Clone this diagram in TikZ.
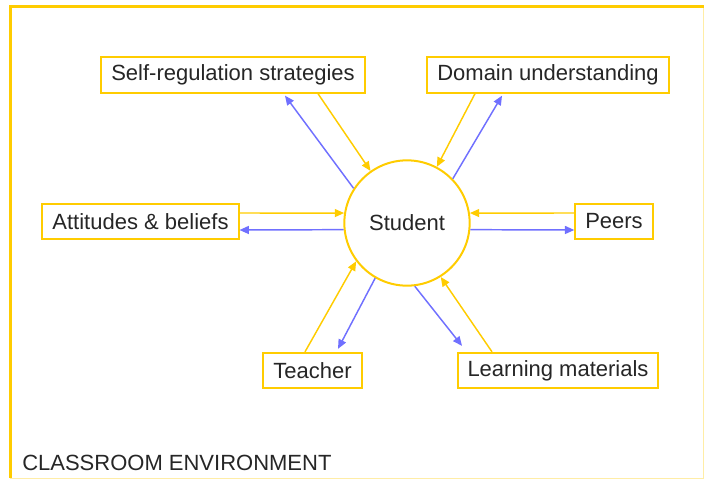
\documentclass[tikz,border=0pt]{standalone}
\usepackage{fontspec}
\setmainfont{Liberation Sans}
\usetikzlibrary{calc}
\usetikzlibrary{arrows.meta}

\definecolor{frameyellow}{RGB}{255,204,0}
\definecolor{flowblue}{RGB}{112,112,255}

\begin{document}
\begin{tikzpicture}[x=0.75pt,y=0.75pt,yscale=-1,xscale=1,
  factor/.style={draw=frameyellow,line width=1.5pt,fill=white,inner xsep=7.5pt,minimum height=26.5pt,font=\fontsize{16.5}{19}\selectfont,text=black!85},
  learner/.style={circle,draw=frameyellow,line width=1.5pt,fill=white,minimum size=94pt,font=\fontsize{16.5}{19}\selectfont,text=black!85},
  toward/.style={draw=frameyellow,line width=1.1pt,-{Triangle[length=7pt,width=6pt]}},
  away/.style={draw=flowblue,line width=1.1pt,-{Triangle[length=7pt,width=6pt]}}]
\useasboundingbox (0,0) rectangle (704,480);

%Shape: Frame
\draw [color=frameyellow!35, line width=0.75] (10,478) -- (703,478) -- (703,6) ;
\draw [color=frameyellow, line width=2.25] (10,478) -- (10,6) -- (704,6) ;

%Shape: Circle
\node [learner] (st) at (407,223) {Student};

% Text Node
\node [factor] (sr) at (233,75) {Self-regulation strategies};
% Text Node
\node [factor] (du) at (548,75) {Domain understanding};
% Text Node
\node [factor] (ab) at (140.5,221.5) {Attitudes \& beliefs};
% Text Node
\node [factor] (pe) at (614,221.5) {Peers};
% Text Node
\node [factor] (te) at (312.5,370.5) {Teacher};
% Text Node
\node [factor] (lm) at (558,370.5) {Learning materials};
% Text Node
\node [anchor=west, inner sep=0pt, font=\fontsize{16.5}{19}\selectfont, text=black!85] (env) at (22,463) {CLASSROOM ENVIRONMENT};

%Straight Lines
\draw [toward] ($(sr.south)+(85,0)$) -- (st.125) ;
\draw [away] (st.147) -- ($(sr.south)+(52,2)$) ;
%Straight Lines
\draw [toward] ($(du.south)+(-73,0)$) -- (st.62) ;
\draw [away] (st.44) -- ($(du.south)+(-46,2)$) ;
%Straight Lines
\draw [toward] ($(ab.east)+(0,-8.5)$) -- (st.171) ;
\draw [away] (st.186) -- ($(ab.east)+(0,8.5)$) ;
%Straight Lines
\draw [toward] ($(pe.west)+(0,-8.5)$) -- (st.9) ;
\draw [away] (st.-6) -- ($(pe.west)+(0,8.5)$) ;
%Straight Lines
\draw [toward] ($(te.north)+(-7.5,0)$) -- (st.217) ;
\draw [away] (st.240) -- ($(te.north)+(25.5,-3)$) ;
%Straight Lines
\draw [toward] ($(lm.north)+(-66,0)$) -- (st.302) ;
\draw [away] (st.277) -- ($(lm.north)+(-96,-6)$) ;

\end{tikzpicture}
\end{document}
